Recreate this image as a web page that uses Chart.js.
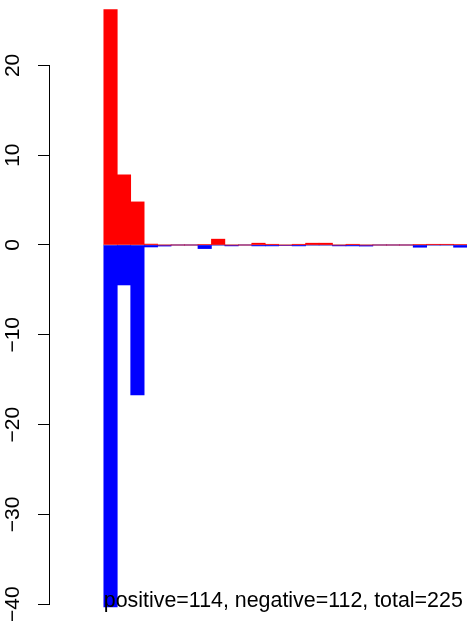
<!DOCTYPE html>
<html>
<head>
<meta charset="utf-8">
<script src="https://cdn.jsdelivr.net/npm/chart.js@4.4.1/dist/chart.umd.min.js"></script>
<style>
html, body { margin: 0; padding: 0; background: #fff; }
#wrap { width: 467px; height: 622px; position: relative; }
</style>
</head>
<body>
<div id="wrap"><canvas id="chart"></canvas></div>
<script>
/* data */
const bins = [1,2,3,4,5,6,7,8,9,10,11,12,13,14,15,16,17,18,19,20,21,22,23,24,25,26,27];
const positive = [26.2, 7.8, 4.8, 0.1, 0, 0, 0, 0.05, 0.65, 0, 0, 0.2, 0.08, 0, 0.08, 0.2, 0.2, 0, 0.08, 0, 0, 0, 0, 0.05, 0.08, 0.08, 0.05];
const negative = [-40.3, -4.45, -16.7, -0.22, -0.12, 0, 0, -0.4, 0, -0.1, 0, -0.1, -0.1, -0.05, -0.1, 0, 0, -0.1, -0.1, -0.12, 0, 0, 0, -0.25, 0, 0, -0.25];
const yTicks = [-40, -30, -20, -10, 0, 10, 20];
const caption = "positive=114, negative=112, total=225";

const FONT = "'Liberation Sans', Arial, Helvetica, sans-serif";

/* zero line, axis line and caption */
const extras = {
  id: "extras",
  beforeDatasetsDraw(chart) {
    const ctx = chart.ctx;
    const x = chart.scales.x, y = chart.scales.y;
    const y0 = y.getPixelForValue(0);
    ctx.save();
    ctx.strokeStyle = "#bebebe";
    ctx.lineWidth = 1.5;
    ctx.beginPath();
    ctx.moveTo(x.getPixelForValue(bins[0] - 0.55), y0);
    ctx.lineTo(chart.chartArea.right, y0);
    ctx.stroke();
    ctx.restore();
  },
  afterDraw(chart) {
    const ctx = chart.ctx;
    const x = chart.scales.x, y = chart.scales.y;
    ctx.save();
    // y axis line, only across the tick range
    const ax = Math.round(chart.chartArea.left) - 0.5;
    ctx.strokeStyle = "#000";
    ctx.lineWidth = 1;
    ctx.beginPath();
    ctx.moveTo(ax, Math.round(y.getPixelForValue(yTicks[yTicks.length - 1])) + 0.5);
    ctx.lineTo(ax, Math.round(y.getPixelForValue(yTicks[0])) + 0.5);
    ctx.stroke();
    // caption
    ctx.fillStyle = "#000";
    ctx.font = "21.4px " + FONT;
    ctx.textAlign = "left";
    ctx.textBaseline = "alphabetic";
    ctx.fillText(caption, x.getPixelForValue(bins[0] - 0.5), y.getPixelForValue(yTicks[0]) + 2.5);
    ctx.restore();
  }
};

new Chart(document.getElementById("chart"), {
  type: "bar",
  data: {
    labels: bins,
    datasets: [
      { data: positive, backgroundColor: "#ff0000", grouped: false, borderWidth: 0,
        barPercentage: 1, categoryPercentage: 1 },
      { data: negative, backgroundColor: "#0000ff", grouped: false, borderWidth: 0,
        barPercentage: 1, categoryPercentage: 1 }
    ]
  },
  options: {
    responsive: true,
    maintainAspectRatio: false,
    animation: false,
    devicePixelRatio: 1,
    layout: { padding: 0 },
    plugins: { legend: { display: false }, tooltip: { enabled: false } },
    scales: {
      x: {
        type: "linear",
        display: false,
        offset: false,
        min: bins[0] - 4.5,
        max: bins[bins.length - 1] + 0.5
      },
      y: {
        position: "left",
        min: -41.98,
        max: 27.28,
        afterBuildTicks: s => { s.ticks = yTicks.map(v => ({ value: v })); },
        afterFit: s => { s.width = 50; s.paddingTop = 0; s.paddingBottom = 0; },
        border: { display: false },
        grid: { drawOnChartArea: false, drawTicks: true, tickLength: 12, color: "#000", lineWidth: 1 },
        ticks: {
          color: "#000",
          font: { family: FONT, size: 21 },
          minRotation: 90,
          maxRotation: 90,
          crossAlign: "center",
          padding: 7,
          callback: v => String(v).replace("-", "\u2212")
        }
      }
    }
  },
  plugins: [extras]
});
</script>
</body>
</html>
